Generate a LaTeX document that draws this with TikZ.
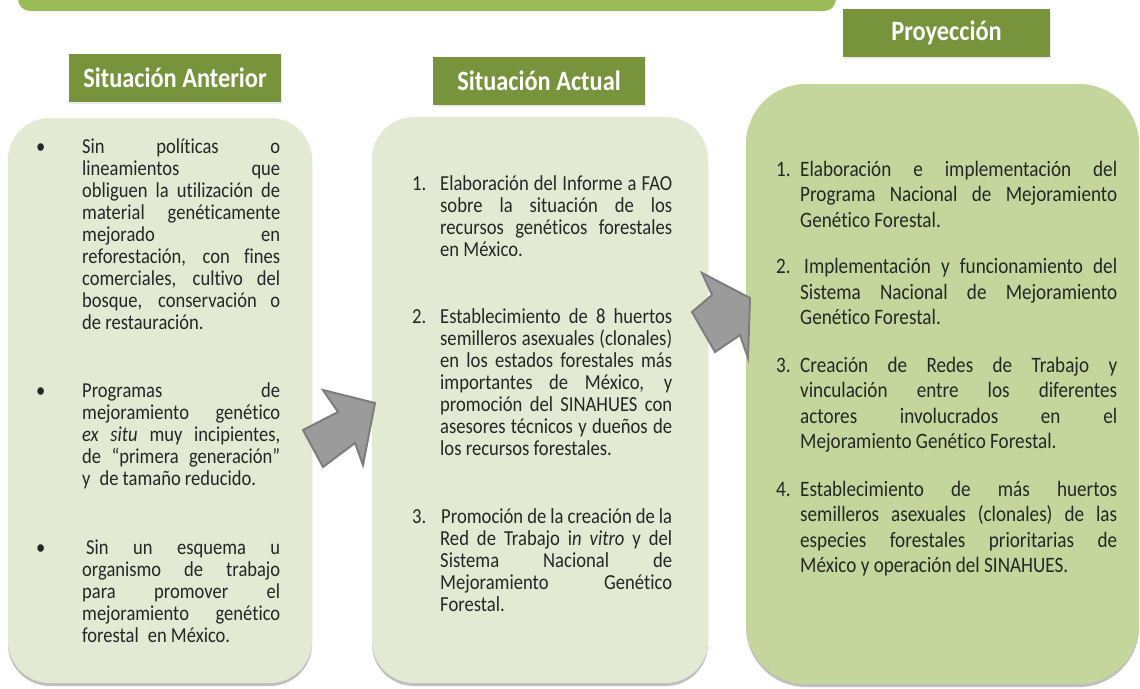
\documentclass[tikz,border=0pt]{standalone}
\usepackage{fontspec}
\setmainfont{Carlito}
\newfontfamily\bodyfont[FakeStretch=0.87, Ligatures=NoCommon]{Carlito}
\newfontfamily\headfont[FakeStretch=0.87, Ligatures=NoCommon]{Carlito}
\usetikzlibrary{shadows}
\definecolor{barGreen}{RGB}{155,187,89}
\definecolor{hdrGreen}{RGB}{119,147,60}
\definecolor{paleGreen}{RGB}{227,234,212}
\definecolor{midGreen}{RGB}{196,214,155}
\definecolor{arrFill}{RGB}{155,155,155}
\definecolor{arrLine}{RGB}{125,125,125}
\definecolor{txt}{RGB}{38,38,38}
\newcommand\Ln[1]{\hbox to \hsize{#1}}
\newcommand\Ll[1]{\hbox to \hsize{#1\hfil}}
\newcommand\Bul{\llap{\makebox[46pt][l]{\textbullet}}}
\newcommand\NumM[1]{\llap{\makebox[28pt][l]{#1}}}
\newcommand\NumR[1]{\llap{\makebox[24pt][l]{#1}}}
\newcommand\SmallCol[2]{\bodyfont\fontsize{#2}{22}\selectfont\hsize=#1\baselineskip=22pt\lineskiplimit=-100pt}
\newcommand\BigCol{\bodyfont\fontsize{22}{25.6}\selectfont\hsize=317pt\baselineskip=25.6pt\lineskiplimit=-100pt}
\tikzset{
  hdr/.style={fill=hdrGreen, text=white, inner sep=0pt, minimum width=212pt, minimum height=48pt,
    font=\headfont\bfseries\fontsize{28}{30}\selectfont, drop shadow={shadow xshift=1pt, shadow yshift=-2pt, fill=black!15, opacity=0.5}},
  panelA/.style={fill=paleGreen, draw=none, rounded corners=42pt, inner sep=0pt,
    drop shadow={shadow xshift=0pt, shadow yshift=-3pt, fill=black!45, opacity=0.55}},
  panelB/.style={fill=midGreen, draw=none, rounded corners=60pt, inner sep=0pt,
    drop shadow={shadow xshift=0pt, shadow yshift=-3pt, fill=black!45, opacity=0.55}},
  para/.style={anchor=base west, inner sep=0pt, text=txt},
  blockarrow/.style={fill=arrFill, draw=arrLine, line width=2pt, line join=miter}
}
\begin{document}
\begin{tikzpicture}[x=1pt,y=-1pt]
\useasboundingbox (0,0) rectangle (1140,688);
\fill[white] (0,0) rectangle (1140,688);
% top bar
\fill[barGreen, rounded corners=12pt] (18,-30) rectangle (836,11);
% panels
\node[panelA, minimum width=304pt, minimum height=565pt] (pL) at (160,400.5) {};
\node[panelA, minimum width=336pt, minimum height=566pt] (pM) at (540,400) {};
\node[panelB, minimum width=393pt, minimum height=600pt] (pR) at (942.5,384) {};
% headers
\node[hdr] (hA) at (175,78) {Situación Anterior};
\node[hdr] (hB) at (539,81) {Situación Actual};
\node[hdr, minimum width=207pt] (hC) at (946.5,33) {Proyección};
% arrows
\draw[blockarrow] (375,403) coordinate (a1tip) -- (323,390) -- (338,412) -- (303,430) -- (323,467) -- (355,443) -- (363,465) -- cycle;
\draw[blockarrow] (750,298) coordinate (a2tip) -- (702,273) -- (712,295) -- (692,312) -- (715,352) -- (740,335) -- (748,358) -- cycle;
% left column text
\node[para] (l1) at (82,153) {\vtop{\SmallCol{198pt}{21.3}
\Ln{\Bul Sin políticas o}
\Ln{lineamientos que}
\Ln{obliguen la utilización de}
\Ln{material genéticamente}
\Ln{mejorado en}
\Ln{reforestación, con fines}
\Ln{comerciales, cultivo del}
\Ln{bosque, conservación o}
\Ll{de restauración.}}};
\node[para] (l2) at (82,397) {\vtop{\SmallCol{198pt}{21.3}
\Ln{\Bul Programas de}
\Ln{mejoramiento genético}
\Ln{\textit{ex situ} muy incipientes,}
\Ln{de “primera generación”}
\Ll{y\hspace{9pt}de tamaño reducido.}}};
\node[para] (l3) at (82,554) {\vtop{\SmallCol{198pt}{21.3}
\Ln{\Bul\hspace*{4pt}Sin un esquema u}
\Ln{organismo de trabajo}
\Ln{para promover el}
\Ln{mejoramiento genético}
\Ll{forestal\hspace{9pt}en México.}}};
% middle column text
\node[para] (m1) at (440,190) {\vtop{\SmallCol{232pt}{21.4}
\Ln{\NumM{1.}Elaboración del Informe a FAO}
\Ln{sobre la situación de los}
\Ln{recursos genéticos forestales}
\Ll{en México.}}};
\node[para] (m2) at (440,323) {\vtop{\SmallCol{232pt}{21.4}
\Ln{\NumM{2.}Establecimiento de 8 huertos}
\Ln{semilleros asexuales (clonales)}
\Ln{en los estados forestales más}
\Ln{importantes de México, y}
\Ln{promoción del SINAHUES con}
\Ln{asesores técnicos y dueños de}
\Ll{los recursos forestales.}}};
\node[para] (m3) at (440,523) {\vtop{\SmallCol{232pt}{21.4}
\Ln{\NumM{3.}\hspace*{1pt}Promoción de la creación de la}
\Ln{Red de Trabajo i\textit{n vitro} y del}
\Ln{Sistema Nacional de}
\Ln{Mejoramiento Genético}
\Ll{Forestal.}}};
% right column text
\node[para] (r1) at (800,176) {\vtop{\BigCol
\Ln{\NumR{1.}Elaboración e implementación del}
\Ln{Programa Nacional de Mejoramiento}
\Ll{Genético Forestal.}}};
\node[para] (r2) at (800,273.5) {\vtop{\BigCol
\Ln{\NumR{2.}\hspace*{4pt}Implementación y funcionamiento del}
\Ln{Sistema Nacional de Mejoramiento}
\Ll{Genético Forestal.}}};
\node[para] (r3) at (800,372) {\vtop{\BigCol
\Ln{\NumR{3.}Creación de Redes de Trabajo y}
\Ln{vinculación entre los diferentes}
\Ln{actores involucrados en el}
\Ll{Mejoramiento Genético Forestal.}}};
\node[para] (r4) at (800,496) {\vtop{\BigCol
\Ln{\NumR{4.}Establecimiento de más huertos}
\Ln{semilleros asexuales (clonales) de las}
\Ln{especies forestales prioritarias de}
\Ll{México y operación del SINAHUES.}}};
\end{tikzpicture}
\end{document}
